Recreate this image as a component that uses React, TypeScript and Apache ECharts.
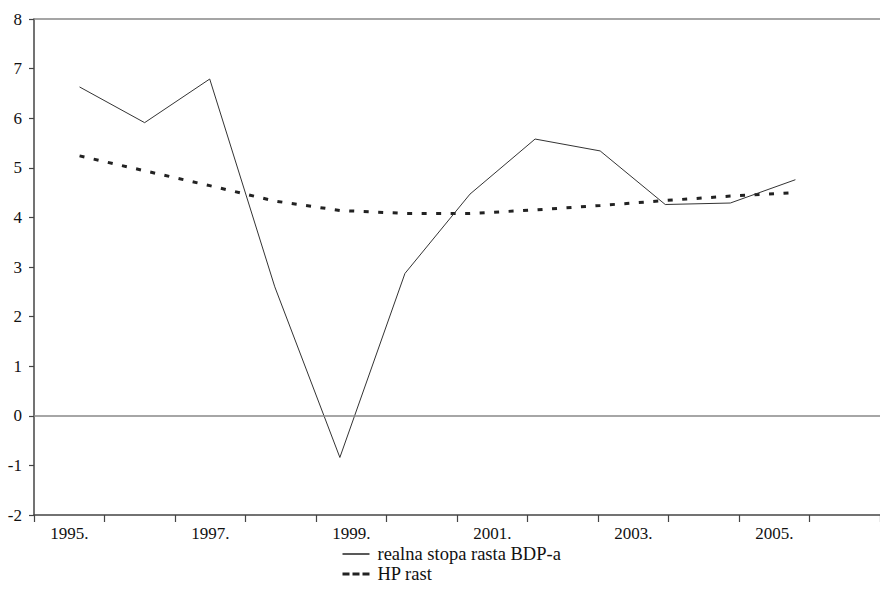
import React, { useEffect, useRef } from "react";
import * as echarts from "echarts";

const categories = ["1995", "1996", "1997", "1998", "1999", "2000", "2001", "2002", "2003", "2004", "2005", "2006"];
const realGrowth = [6.63, 5.91, 6.79, 2.6, -0.84, 2.87, 4.47, 5.58, 5.34, 4.26, 4.29, 4.76];
const hpTrend = [5.24, 4.94, 4.64, 4.33, 4.14, 4.08, 4.08, 4.15, 4.24, 4.34, 4.43, 4.5];
const seriesNames = ["realna stopa rasta BDP-a", "HP rast"];
const yMin = -2;
const yMax = 8;
const yStep = 1;

const FONT = "Liberation Serif, serif";

export default function App() {
  const ref = useRef<HTMLDivElement>(null);

  useEffect(() => {
    if (!ref.current) return;
    const chart = echarts.init(ref.current, undefined, { renderer: "svg" });
    const years = categories.map((c) => Number(c));
    chart.setOption({
      animation: false,
      backgroundColor: "#ffffff",
      textStyle: { fontFamily: FONT },
      grid: { left: 34, top: 19, width: 856, height: 496, containLabel: false },
      legend: {
        orient: "vertical",
        left: 341,
        top: 544,
        itemWidth: 27,
        itemHeight: 14,
        itemGap: 0,
        padding: 0,
        selectedMode: false,
        itemStyle: { opacity: 0, borderWidth: 0 },
        textStyle: { fontFamily: FONT, fontSize: 18.5, lineHeight: 20, color: "#111", padding: [0, 0, 0, 3] },
        data: [
          { name: seriesNames[0], lineStyle: { color: "#222", width: 1.5, type: "solid" } },
          { name: seriesNames[1], lineStyle: { color: "#222", width: 3, type: [7, 3] } },
        ],
      },
      xAxis: [
        {
          type: "category",
          data: categories,
          position: "bottom",
          boundaryGap: true,
          axisLine: { show: true, onZero: false, lineStyle: { color: "#444", width: 1.5 } },
          axisTick: { show: true, interval: 0, length: 7, inside: false, lineStyle: { color: "#444", width: 1.2 } },
          axisLabel: {
            interval: 1,
            formatter: (v: string) => v + ".",
            fontFamily: FONT,
            fontSize: 17,
            lineHeight: 17,
            color: "#111",
            margin: 10,
          },
          splitLine: { show: false },
        },
        {
          type: "value",
          position: "top",
          min: 1994.3,
          max: 2007.3,
          axisLine: { show: true, onZero: false, lineStyle: { color: "#888", width: 1.5 } },
          axisTick: { show: false },
          axisLabel: { show: false },
          splitLine: { show: false },
        },
      ],
      yAxis: {
        type: "value",
        min: yMin,
        max: yMax,
        interval: yStep,
        axisLine: { show: true, onZero: false, lineStyle: { color: "#444", width: 1.5 } },
        axisTick: { show: true, length: 5, inside: false, lineStyle: { color: "#444", width: 1.2 } },
        axisLabel: { fontFamily: FONT, fontSize: 17, color: "#111", margin: 12 },
        splitLine: { show: false },
      },
      series: [
        {
          name: seriesNames[0],
          type: "line",
          xAxisIndex: 1,
          yAxisIndex: 0,
          data: years.map((y, i) => [y, realGrowth[i]]),
          symbol: "none",
          lineStyle: { color: "#333", width: 1 },
          itemStyle: { color: "#333" },
          markLine: {
            silent: true,
            symbol: "none",
            label: { show: false },
            lineStyle: { color: "#888", width: 1.5, type: "solid" },
            data: [{ yAxis: 0 }],
          },
          z: 3,
        },
        {
          name: seriesNames[1],
          type: "line",
          xAxisIndex: 1,
          yAxisIndex: 0,
          data: years.map((y, i) => [y, hpTrend[i]]),
          symbol: "none",
          lineStyle: { color: "#222", width: 3, type: [5, 9.5] },
          itemStyle: { color: "#222" },
          z: 2,
        },
      ],
    });
    return () => chart.dispose();
  }, []);

  return (
    <div
      style={{
        position: "absolute",
        left: 0,
        top: 0,
        width: 880,
        height: 603,
        overflow: "hidden",
        background: "#fff",
      }}
    >
      <div ref={ref} style={{ width: 880, height: 603 }} />
    </div>
  );
}
